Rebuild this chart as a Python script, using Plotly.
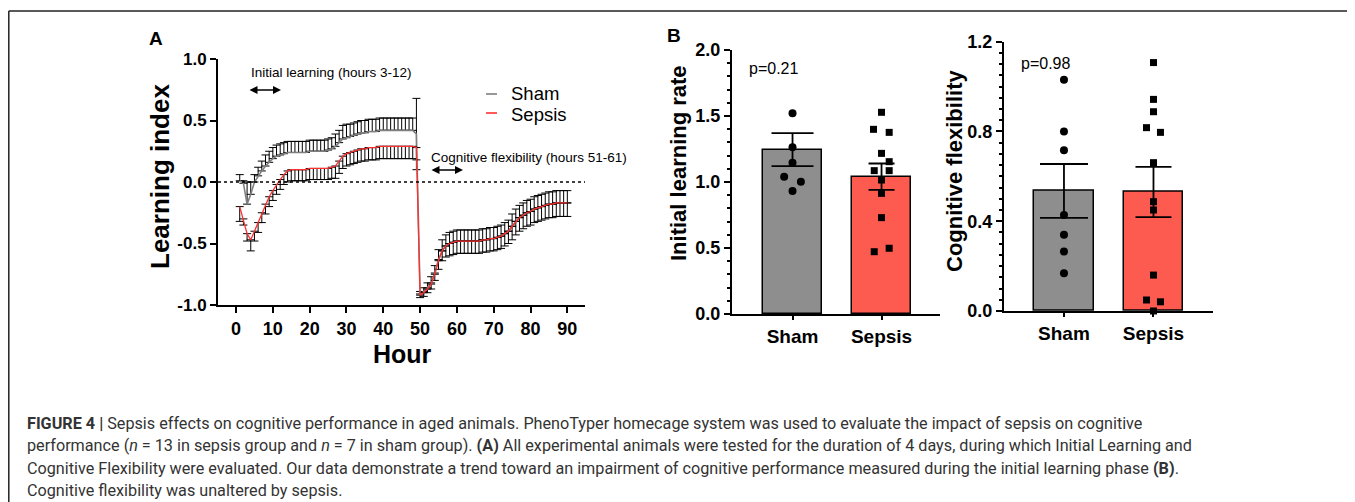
import plotly.graph_objects as go

# The page body has an 8 px margin, so the figure is sized and shifted to fit the window.
OX, OY = 8, 8
W, H = 1355 - OX, 502 - OY

# ---------------- Panel A data (hourly learning index) ----------------
hours = list(range(1, 91))
sham_mean = [
    0.01, -0.01, -0.18, -0.10, 0.00, 0.05, 0.09, 0.13, 0.16, 0.19,
    0.21, 0.22, 0.23, 0.24, 0.24, 0.24, 0.24, 0.24, 0.24, 0.25,
    0.25, 0.25, 0.25, 0.25, 0.26, 0.27, 0.29, 0.32, 0.35, 0.36,
    0.37, 0.38, 0.39, 0.40, 0.40, 0.41, 0.41, 0.41, 0.42, 0.42,
    0.42, 0.42, 0.42, 0.42, 0.42, 0.42, 0.42, 0.42, 0.39,
    -0.91, -0.89, -0.86, -0.82, -0.74, -0.63, -0.56, -0.52, -0.50, -0.49,
    -0.48, -0.48, -0.48, -0.48, -0.48, -0.48, -0.48, -0.47, -0.47, -0.46,
    -0.46, -0.45, -0.44, -0.42, -0.40, -0.36, -0.32, -0.29, -0.27, -0.25,
    -0.24, -0.22, -0.21, -0.20, -0.19, -0.18, -0.18, -0.17, -0.17, -0.17,
    -0.17,
]
sham_sem = [
    0.05, 0.02, 0.18, 0.10, 0.06, 0.07, 0.08, 0.09, 0.09, 0.09,
    0.09, 0.09, 0.09, 0.09, 0.09, 0.09, 0.09, 0.09, 0.09, 0.09,
    0.09, 0.09, 0.09, 0.09, 0.09, 0.09, 0.10, 0.10, 0.11, 0.11,
    0.10, 0.10, 0.10, 0.10, 0.10, 0.10, 0.10, 0.10, 0.10, 0.10,
    0.10, 0.10, 0.10, 0.10, 0.10, 0.10, 0.10, 0.10, 0.29,
    0.02, 0.03, 0.04, 0.05, 0.06, 0.08, 0.09, 0.09, 0.09, 0.09,
    0.09, 0.09, 0.09, 0.09, 0.09, 0.09, 0.09, 0.09, 0.09, 0.09,
    0.09, 0.09, 0.09, 0.09, 0.09, 0.10, 0.10, 0.10, 0.10, 0.10,
    0.10, 0.10, 0.10, 0.10, 0.10, 0.10, 0.10, 0.10, 0.10, 0.10,
    0.10,
]
sepsis_mean = [
    -0.20, -0.30, -0.42, -0.47, -0.40, -0.33, -0.25, -0.18, -0.12, -0.07,
    -0.02, 0.02, 0.06, 0.09, 0.10, 0.10, 0.10, 0.10, 0.10, 0.11,
    0.11, 0.11, 0.11, 0.11, 0.11, 0.12, 0.13, 0.17, 0.21, 0.23,
    0.24, 0.25, 0.26, 0.27, 0.27, 0.28, 0.28, 0.28, 0.29, 0.29,
    0.29, 0.29, 0.29, 0.29, 0.29, 0.29, 0.29, 0.29, 0.28,
    -0.92, -0.90, -0.87, -0.83, -0.75, -0.64, -0.56, -0.52, -0.50, -0.49,
    -0.48, -0.48, -0.48, -0.48, -0.48, -0.48, -0.48, -0.47, -0.47, -0.46,
    -0.46, -0.45, -0.44, -0.42, -0.40, -0.36, -0.32, -0.29, -0.27, -0.25,
    -0.24, -0.22, -0.21, -0.20, -0.19, -0.18, -0.18, -0.17, -0.17, -0.17,
    -0.17,
]
sepsis_sem = [
    0.12, 0.05, 0.06, 0.09, 0.08, 0.08, 0.08, 0.08, 0.08, 0.08,
    0.08, 0.08, 0.08, 0.09, 0.09, 0.09, 0.09, 0.09, 0.09, 0.09,
    0.09, 0.09, 0.09, 0.09, 0.09, 0.09, 0.10, 0.10, 0.10, 0.10,
    0.10, 0.10, 0.10, 0.10, 0.10, 0.10, 0.10, 0.10, 0.10, 0.10,
    0.10, 0.10, 0.10, 0.10, 0.10, 0.10, 0.10, 0.10, 0.10,
    0.02, 0.03, 0.03, 0.04, 0.05, 0.07, 0.08, 0.09, 0.10, 0.10,
    0.10, 0.10, 0.10, 0.10, 0.10, 0.10, 0.10, 0.10, 0.10, 0.10,
    0.10, 0.10, 0.10, 0.10, 0.10, 0.11, 0.11, 0.11, 0.11, 0.11,
    0.11, 0.11, 0.11, 0.11, 0.11, 0.11, 0.11, 0.11, 0.11, 0.11,
    0.11,
]
a_xticks = [0, 10, 20, 30, 40, 50, 60, 70, 80, 90]
a_yticks = [-1.0, -0.5, 0.0, 0.5, 1.0]
a_yticktext = ["-1.0", "-0.5", "0.0", "0.5", "1.0"]

# ---------------- Panel B data ----------------
groups = ["Sham", "Sepsis"]
b1_means = [1.245, 1.04]
b1_sems = [0.125, 0.10]
b1_sham_pts = [1.52, 1.263, 1.146, 1.04, 1.002, 0.932]
b1_sepsis_pts = [1.528, 1.399, 1.376, 1.217, 1.154, 1.086, 1.086, 1.015, 0.914, 0.730, 0.472, 0.498]

b2_means = [0.535, 0.53]
b2_sems = [0.12, 0.112]
b2_sham_pts = [1.03, 0.80, 0.716, 0.428, 0.34, 0.265, 0.168]
b2_sepsis_pts = [1.107, 0.943, 0.888, 0.817, 0.796, 0.661, 0.487, 0.45, 0.16, 0.049, 0.041, 0.0]

p_values = ["p=0.21", "p=0.98"]

# jitter (style: horizontal spread of dots within a bar, in category units)
b1_sham_jit = [0, 0, 0, -0.094, 0.094, 0]
b1_sepsis_jit = [0, -0.09, 0.086, 0, 0.086, -0.082, 0.086, 0, 0, 0, -0.082, 0.086]
b2_sham_jit = [0, 0, 0, 0, 0, 0, 0]
b2_sepsis_jit = [0, 0, 0, -0.078, 0.078, 0, 0, 0, 0, -0.078, 0.078, 0]

# ---------------- styles ----------------
GRAY_LINE = "#7f7f7f"
RED_LINE = "#ff3030"
BAR_GRAY = "#8e8e8e"
BAR_RED = "#fd5a50"
FONT = "Liberation Sans, Arial, sans-serif"
BOLD = dict(family=FONT, color="black", weight="bold")


def px(x):
    """window pixel x -> paper fraction"""
    return (x - OX) / W


def py(y):
    """window pixel y -> paper fraction"""
    return 1 - (y - OY) / H


fig = go.Figure()

# Panel A traces
fig.add_trace(go.Scatter(
    x=hours, y=sham_mean, mode="lines", line=dict(color=GRAY_LINE, width=1.6),
    error_y=dict(type="data", symmetric=False, array=sham_sem,
                 arrayminus=[0] * 48 + [sham_sem[48]] + [0] * 41,
                 color="black", thickness=1, width=4),
    xaxis="x", yaxis="y", showlegend=False, cliponaxis=False))
fig.add_trace(go.Scatter(
    x=hours, y=sepsis_mean, mode="lines", line=dict(color=RED_LINE, width=1.3),
    error_y=dict(type="data", symmetric=False, array=[0] * len(hours),
                 arrayminus=sepsis_sem, color="black", thickness=1, width=4),
    xaxis="x", yaxis="y", showlegend=False, cliponaxis=False))

# Panel B1
for i, (m, s, col, w) in enumerate(zip(b1_means, b1_sems, [BAR_GRAY, BAR_RED], [21, 13])):
    fig.add_trace(go.Bar(
        x=[i], y=[m], width=0.66, marker=dict(color=col, line=dict(color="black", width=1.5)),
        error_y=dict(type="data", array=[s], color="black", thickness=1.8, width=w),
        xaxis="x2", yaxis="y2", showlegend=False))
fig.add_trace(go.Scatter(
    x=[0 + j for j in b1_sham_jit], y=b1_sham_pts, mode="markers",
    marker=dict(symbol="circle", size=8, color="black"),
    xaxis="x2", yaxis="y2", showlegend=False, cliponaxis=False))
fig.add_trace(go.Scatter(
    x=[1 + j for j in b1_sepsis_jit], y=b1_sepsis_pts, mode="markers",
    marker=dict(symbol="square", size=7, color="black"),
    xaxis="x2", yaxis="y2", showlegend=False, cliponaxis=False))

# Panel B2
for i, (m, s, col, w) in enumerate(zip(b2_means, b2_sems, [BAR_GRAY, BAR_RED], [24, 18])):
    fig.add_trace(go.Bar(
        x=[i], y=[m], width=0.66, marker=dict(color=col, line=dict(color="black", width=1.5)),
        error_y=dict(type="data", array=[s], color="black", thickness=1.8, width=w),
        xaxis="x3", yaxis="y3", showlegend=False))
fig.add_trace(go.Scatter(
    x=[0 + j for j in b2_sham_jit], y=b2_sham_pts, mode="markers",
    marker=dict(symbol="circle", size=8, color="black"),
    xaxis="x3", yaxis="y3", showlegend=False, cliponaxis=False))
fig.add_trace(go.Scatter(
    x=[1 + j for j in b2_sepsis_jit], y=b2_sepsis_pts, mode="markers",
    marker=dict(symbol="square", size=7, color="black"),
    xaxis="x3", yaxis="y3", showlegend=False, cliponaxis=False))

axis_common = dict(showgrid=False, zeroline=False, showline=True, linecolor="black",
                   linewidth=2, ticks="outside", tickcolor="black", tickwidth=2,
                   automargin=False)

fig.update_layout(
    template="none",
    width=W, height=H, margin=dict(l=0, r=0, t=0, b=0, pad=0, autoexpand=False),
    paper_bgcolor="white", plot_bgcolor="rgba(0,0,0,0)",
    xaxis=dict(domain=[px(218), px(585)], range=[-4.9, 94.8], anchor="y",
               tickvals=a_xticks, ticklen=6, tickfont=dict(**BOLD, size=18), **axis_common),
    yaxis=dict(domain=[py(305), py(59)], range=[-1, 1], anchor="x",
               tickvals=a_yticks, ticktext=a_yticktext, ticklen=6,
               tickfont=dict(**BOLD, size=17), **axis_common),
    xaxis2=dict(domain=[px(732), px(940)], range=[-0.68, 1.657], anchor="y2",
                tickvals=[0, 1], ticktext=groups, ticklen=4,
                tickfont=dict(**BOLD, size=19), **axis_common),
    yaxis2=dict(domain=[py(314), py(50)], range=[0, 2], anchor="x2",
                tickmode="linear", tick0=0, dtick=0.5, tickformat=".1f", ticklen=6,
                tickfont=dict(**BOLD, size=18),
                minor=dict(dtick=0.1, ticks="outside", ticklen=3, tickwidth=1.5,
                           tickcolor="black", showgrid=False),
                **axis_common),
    xaxis3=dict(domain=[px(1004), px(1213)], range=[-0.67, 1.665], anchor="y3",
                tickvals=[0, 1], ticktext=groups, ticklen=4,
                tickfont=dict(**BOLD, size=19), **axis_common),
    yaxis3=dict(domain=[py(311), py(41.7)], range=[0, 1.2], anchor="x3",
                tickmode="linear", tick0=0, dtick=0.4, tickformat=".1f", ticklen=6,
                tickfont=dict(**BOLD, size=18),
                minor=dict(dtick=0.05, ticks="outside", ticklen=3, tickwidth=1.5,
                           tickcolor="black", showgrid=False),
                **axis_common),
    bargap=0, barmode="overlay",
)

shapes = [
    # dotted zero line in panel A
    dict(type="line", xref="x", yref="y", x0=-4.9, x1=94.8, y0=0, y1=0,
         line=dict(color="black", width=1.6, dash="dot")),
    # outer frame
    dict(type="line", xref="paper", yref="paper", x0=px(8.8), x1=1.0, y0=py(11), y1=py(11),
         line=dict(color="#222222", width=1.5)),
    dict(type="line", xref="paper", yref="paper", x0=px(8.8), x1=px(8.8), y0=py(11), y1=0,
         line=dict(color="#222222", width=1.5)),
    # legend swatches
    dict(type="line", xref="paper", yref="paper", x0=px(486), x1=px(497), y0=py(94), y1=py(94),
         line=dict(color=GRAY_LINE, width=1.6)),
    dict(type="line", xref="paper", yref="paper", x0=px(486), x1=px(497), y0=py(113), y1=py(113),
         line=dict(color=RED_LINE, width=1.6)),
]
fig.update_layout(shapes=shapes)

ann = []


def text(x, y, t, size, bold=False, xanchor="center", angle=0, color="black", family=FONT):
    f = dict(family=family, size=size, color=color)
    if bold:
        f["weight"] = "bold"
    ann.append(dict(xref="paper", yref="paper", x=px(x), y=py(y), text=t, showarrow=False,
                    xanchor=xanchor, yanchor="middle", textangle=angle, font=f))


text(156, 38, "A", 19, bold=True)
text(674, 36, "B", 19, bold=True)
text(160, 177, "Learning index", 26, bold=True, angle=-90)
text(402, 354, "Hour", 25, bold=True)
text(678, 163, "Initial learning rate", 22, bold=True, angle=-90)
text(955, 171, "Cognitive flexibility", 22, bold=True, angle=-90)
text(249, 72, "Initial learning (hours 3-12)", 13.5, xanchor="left")
text(429, 157, "Cognitive flexibility (hours 51-61)", 13.5, xanchor="left")
text(509, 93.5, "Sham", 18.5, xanchor="left")
text(509, 114, "Sepsis", 18.5, xanchor="left")
text(747, 68, p_values[0], 16, xanchor="left")
text(1019, 63, p_values[1], 16, xanchor="left")

# double-headed arrows
for (x0, x1, y) in [(248, 281, 90), (430, 463, 170)]:
    ann.append(dict(xref="paper", yref="paper", x=px(x1), y=py(y), ax=-(x1 - x0), ay=0,
                    text="", showarrow=True, arrowhead=2, arrowside="end+start",
                    arrowsize=1, arrowwidth=1.6, arrowcolor="black"))

caption = [
    "<b>FIGURE 4 |</b> Sepsis effects on cognitive performance in aged animals. PhenoTyper homecage system was used to evaluate the impact of sepsis on cognitive",
    "performance (<i>n</i> = 13 in sepsis group and <i>n</i> = 7 in sham group). <b>(A)</b> All experimental animals were tested for the duration of 4 days, during which Initial Learning and",
    "Cognitive Flexibility were evaluated. Our data demonstrate a trend toward an impairment of cognitive performance measured during the initial learning phase <b>(B)</b>.",
    "Cognitive flexibility was unaltered by sepsis.",
]
for i, line in enumerate(caption):
    text(25, 423 + i * 22.5, line, 16.2, xanchor="left", color="#333333",
         family="Liberation Sans Narrow, Roboto, Liberation Sans, sans-serif")

fig.update_layout(annotations=ann)
fig.write_html("out.html")
